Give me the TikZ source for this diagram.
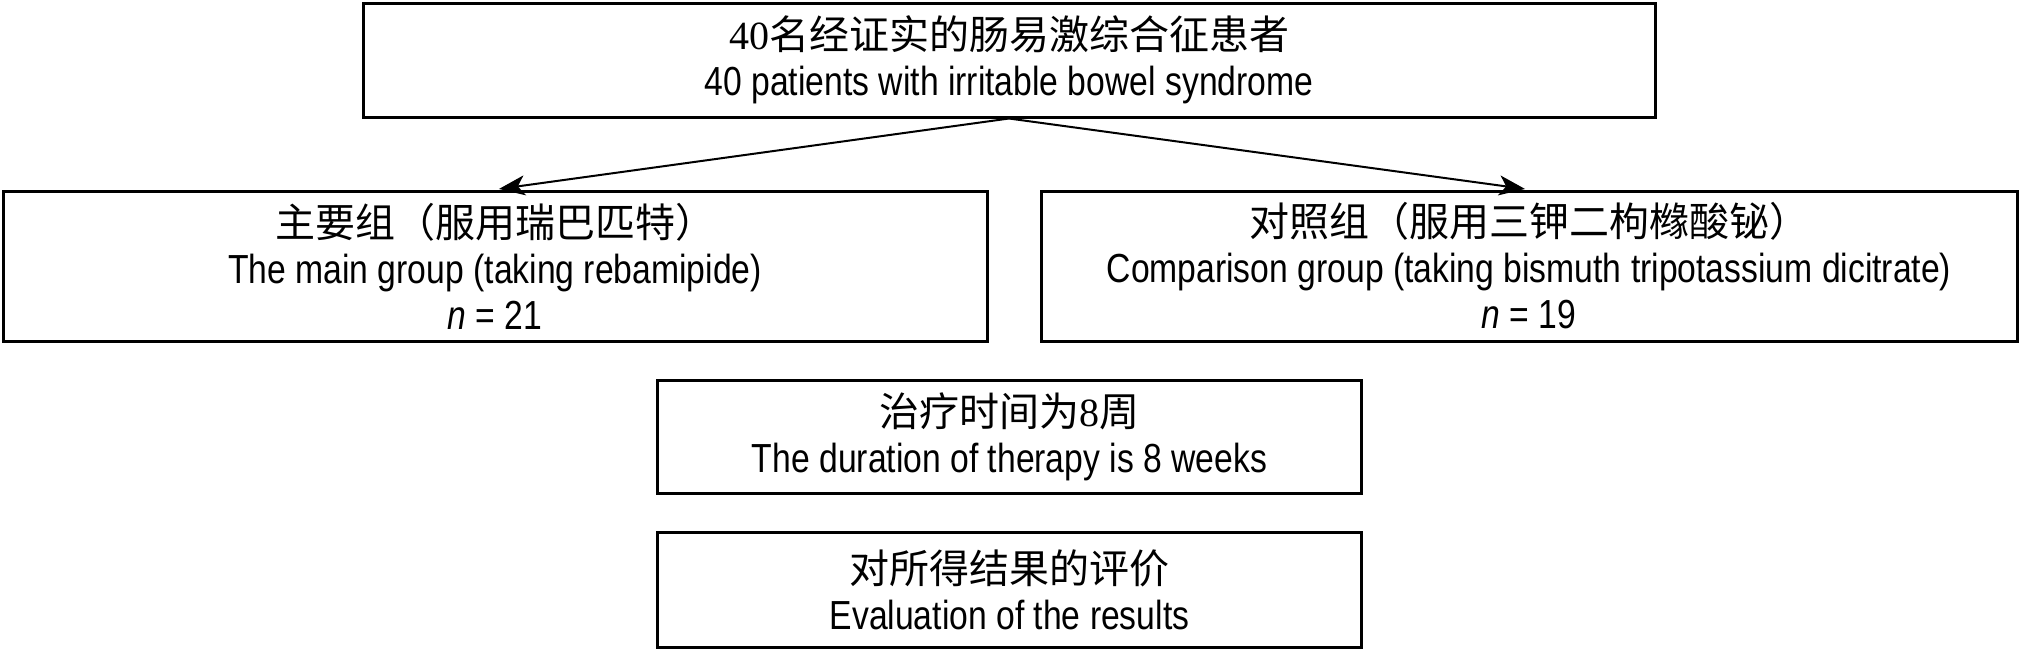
\documentclass[tikz,border=0pt]{standalone}
\usepackage{fontspec}
\setmainfont{Liberation Sans}[FakeStretch=0.83]
\newfontfamily\cjk{Noto Sans CJK SC}
\newfontfamily\numfont{Liberation Serif}
\usetikzlibrary{arrows.meta}
\newcommand{\zhline}[1]{{\cjk\fontsize{20}{23}\selectfont #1}}

\begin{document}
\begin{tikzpicture}[x=0.5pt,y=-0.5pt,
        box/.style={draw,line width=1.5pt,inner sep=0pt,align=center,
            font=\fontsize{20.3}{23}\selectfont},
        link/.style={-{Stealth[length=13pt,width=10pt,inset=3.5pt]},line width=1pt,shorten >=2pt}]
        \useasboundingbox (0,0) rectangle (2020,650);

        % enrolment
        \node[box,minimum width=646pt,minimum height=57pt] (patients) at (1009,60)
            {\zhline{{\numfont 40}名经证实的肠易激综合征患者}\\ 40 patients with irritable bowel syndrome};

        % the two groups
        \node[box,minimum width=492pt,minimum height=75pt] (main) at (495,266)
            {\zhline{主要组（服用瑞巴匹特）}\\ The main group (taking rebamipide)\\ \textit{n} = 21};
        \node[box,minimum width=488pt,minimum height=75pt] (comparison) at (1529,266)
            {\zhline{对照组（服用三钾二枸橼酸铋）}\\ Comparison group (taking bismuth tripotassium dicitrate)\\ \textit{n} = 19};

        % therapy and evaluation
        \node[box,minimum width=352pt,minimum height=56.5pt] (therapy) at (1009.5,436.5)
            {\zhline{治疗时间为{\numfont 8}周}\\ The duration of therapy is 8 weeks};
        \node[box,minimum width=352pt,minimum height=57.5pt] (evaluation) at (1009.5,589.5)
            {\zhline{对所得结果的评价}\\ Evaluation of the results};

        \draw[link] (patients.south) -- (main.north);
        \draw[link] (patients.south) -- (comparison.north);
    \end{tikzpicture}
\end{document}
